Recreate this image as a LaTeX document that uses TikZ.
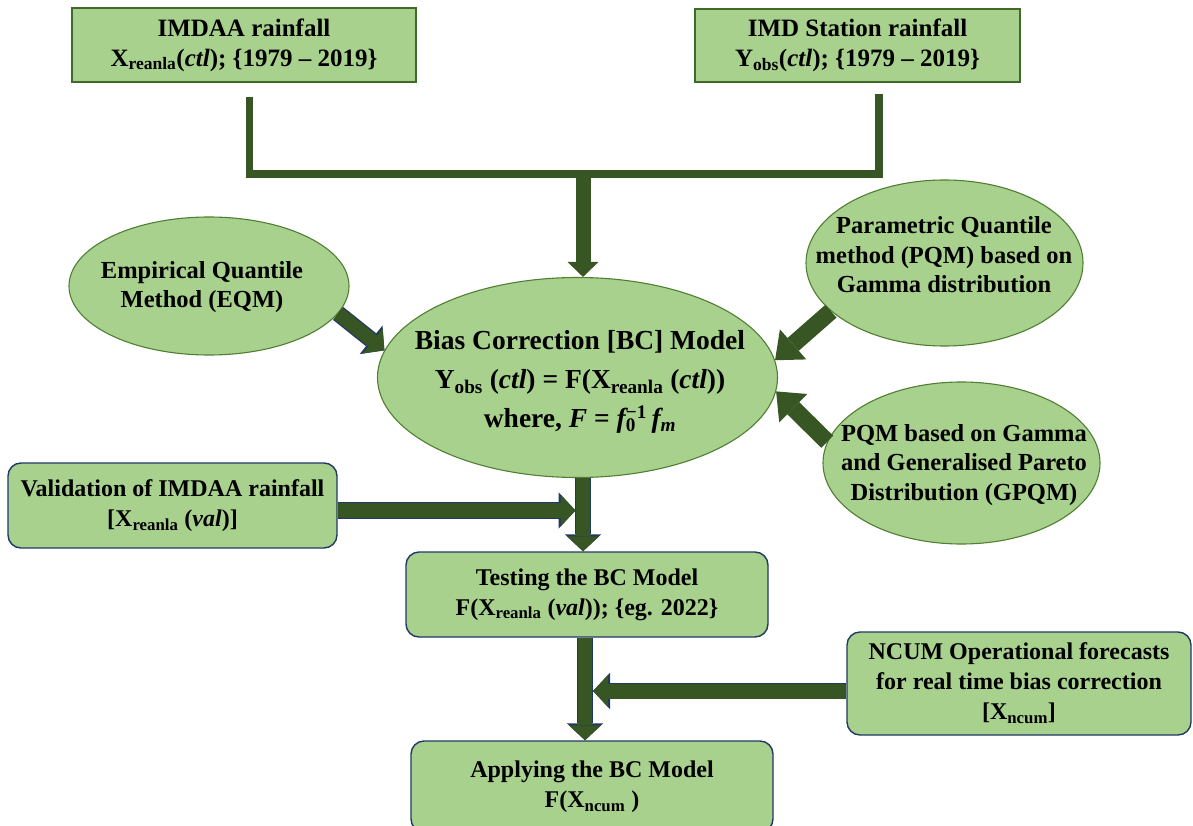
\documentclass[tikz,border=0pt]{standalone}
\usepackage{fontspec}
\setmainfont{Liberation Serif}
\usetikzlibrary{arrows.meta,shapes.geometric}
\definecolor{boxgreen}{HTML}{A9D18E}
\definecolor{arrgreen}{HTML}{375623}
\definecolor{navy}{HTML}{203864}
\definecolor{ellline}{HTML}{507E32}
\definecolor{topline}{HTML}{3F6A2A}
\newcommand{\fml}{{\itshape F} = {\itshape f}\rlap{\textsubscript{0}}\textsuperscript{−1}\,{\itshape f}\textsubscript{\itshape m}}
\begin{document}
\begin{tikzpicture}[x=1pt,y=-1pt,
  txt/.style={align=center, font=\fontsize{24.5}{29.5}\selectfont\bfseries, inner sep=0pt},
  topbox/.style={txt, font=\fontsize{25}{30}\selectfont\bfseries, rectangle, draw=topline, line width=1.5pt, fill=boxgreen},
  rbox/.style={txt, font=\fontsize{24}{30}\selectfont\bfseries, rectangle, rounded corners=13pt, draw=navy, line width=1.4pt, fill=boxgreen},
  ell/.style={ellipse, draw=ellline, line width=1.1pt, fill=boxgreen, inner sep=0pt},
  fat/.style={draw=arrgreen, line width=15pt, -{Triangle[width=31pt,length=15pt,line width=0pt]}},
  outlined/.style={draw=arrgreen, line width=14pt, -{Triangle[width=32pt,length=15pt,line width=0pt]},
    preaction={draw=navy, line width=16.5pt, -{Triangle[width=36.5pt,length=17pt,line width=0pt]}}},
  fatside/.style={draw=arrgreen, line width=17pt, -{Triangle[width=40pt,length=24pt,line width=0pt]}}
]
\useasboundingbox (0,0) rectangle (1193,826);
\clip (0,0) rectangle (1193,826);

% top boxes
\node[topbox, minimum width=344pt, minimum height=74pt] (imdaa) at (244,45)
  {IMDAA rainfall\\X\textsubscript{reanla}(\textit{ctl}); \{1979 -- 2019\}};
\node[topbox, minimum width=325pt, minimum height=73pt] (imd) at (857.5,45.5)
  {IMD Station rainfall\\Y\textsubscript{obs}(\textit{ctl}); \{1979 -- 2019\}};

% ellipses
\node[ell, minimum width=280pt, minimum height=138pt] (eqm) at (209,286) {};
\node[txt] (eqmt) at (202,287) {Empirical Quantile\\Method (EQM)};
\node[ell, minimum width=277pt, minimum height=166pt] (pqm) at (944.5,263) {};
\node[txt] (pqmt) at (944,255) {Parametric Quantile\\method (PQM) based on\\Gamma distribution};
\node[ell, minimum width=277pt, minimum height=162pt] (gpqm) at (961.5,463) {};
\node[txt] (gpqmt) at (964,465) {PQM based on Gamma\\and Generalised Pareto\\Distribution (GPQM)};
\node[ell, minimum width=400pt, minimum height=200pt] (bc) at (577.5,377.5) {};
\node[txt, font=\fontsize{27.5}{39}\selectfont\bfseries] (bct) at (580,382)
  {Bias Correction [BC] Model\\Y\textsubscript{obs} (\textit{ctl}) = F(X\textsubscript{reanla} (\textit{ctl}))\\where, \fml};

% rounded boxes
\node[rbox, minimum width=329pt, minimum height=85pt] (val) at (172.5,505.5)
  {Validation of IMDAA rainfall\\{}[X\textsubscript{reanla} (\textit{val})]};
\node[rbox, minimum width=362pt, minimum height=85pt] (test) at (587,594.5)
  {Testing the BC Model\\F(X\textsubscript{reanla} (\textit{val})); \{eg. 2022\}};
\node[rbox, minimum width=344pt, minimum height=103pt] (ncum) at (1019,683.5)
  {NCUM Operational forecasts\\for real time bias correction\\{}[X\textsubscript{ncum}]};
\node[rbox, minimum width=362pt, minimum height=91pt] (apply) at (592,786.5)
  {Applying the BC Model\\F(X\textsubscript{ncum} )};

% top connector
\coordinate (l1) at ([xshift=5.5pt,yshift=-14pt]imdaa.south);
\coordinate (r1) at ([xshift=21.5pt,yshift=-11pt]imd.south);
\coordinate (jn) at (583,174);
\draw[arrgreen, line width=7.5pt] (l1) |- (jn) -| (r1);
\draw[fat] (jn) -- (jn |- bc.north);

% side arrows into the model
\draw[outlined, line width=14pt] (eqm.-12) -- (bc.172.75);
\draw[fatside] (pqm.203) -- (bc.5.6);
\draw[fatside] (gpqm.171.5) -- (bc.-4.2);

% vertical flow
\coordinate (s1) at ([xshift=5.5pt]bc.south);
\draw[outlined] (s1) -- (s1 |- test.north);
\coordinate (s2) at ([xshift=-2pt]test.south);
\draw[outlined] (s2) -- (s2 |- apply.north);

% horizontal inputs
\coordinate (v1) at ([yshift=-5pt]val.east);
\path (s1 |- v1) ++(-7.5,0) coordinate (v2);
\draw[outlined, line width=15pt] (v1) -- (v2);
\coordinate (n1) at ([yshift=-7.5pt]ncum.west);
\path (s2 |- n1) ++(8,0) coordinate (n2);
\draw[outlined, line width=15pt] (n1) -- (n2);
\end{tikzpicture}
\end{document}
